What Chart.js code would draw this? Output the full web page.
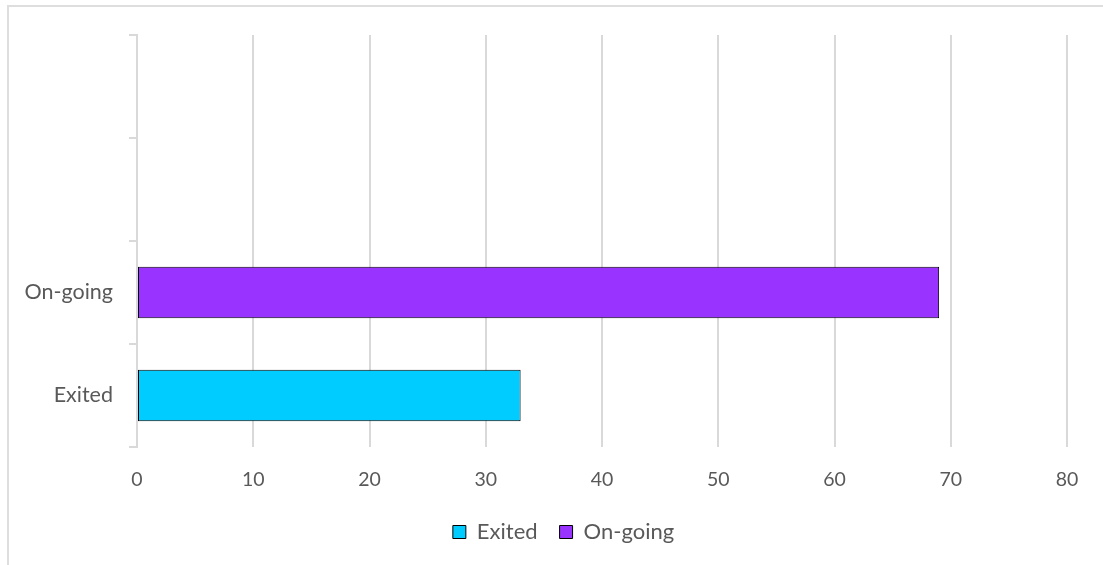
<!DOCTYPE html>
<html>
<head>
<meta charset="utf-8">
<script src="https://cdn.jsdelivr.net/npm/chart.js@4"></script>
<style>
  html, body { margin: 0; padding: 0; background: #fff; }
  #wrap { position: relative; width: 1103px; height: 565px; overflow: hidden; }
  #frame { position: absolute; left: 7px; top: 5px; width: 1200px; height: 700px;
           border-top: 2px solid #dedede; border-left: 2px solid #dedede; pointer-events: none; }
  canvas { position: absolute; left: 0; top: 0; }
</style>
</head>
<body>
<div id="wrap">
  <div id="frame"></div>
  <canvas id="c" width="1103" height="565"></canvas>
</div>
<script>
const categories = ["Exited", "On-going", "", ""];
const exitedValues = [33, null, null, null];
const ongoingValues = [null, 69, null, null];
const xTicks = [0, 10, 20, 30, 40, 50, 60, 70, 80];

const fam = "Lato, 'Open Sans', sans-serif";
const gridColor = "#d9d9d9";
const textColor = "#595959";

const legendShift = {
  id: "legendShift",
  afterLayout(chart) {
    if (chart.legend) { chart.legend.left += 20; chart.legend.right += 20; }
  }
};

new Chart(document.getElementById("c"), {
  type: "bar",
  data: {
    labels: categories,
    datasets: [
      { label: "Exited", data: exitedValues, backgroundColor: "#00ccff",
        borderColor: "#000000", borderWidth: 1, borderSkipped: false,
        barPercentage: 0.5, categoryPercentage: 1, grouped: false },
      { label: "On-going", data: ongoingValues, backgroundColor: "#9933ff",
        borderColor: "#000000", borderWidth: 1, borderSkipped: false,
        barPercentage: 0.5, categoryPercentage: 1, grouped: false }
    ]
  },
  plugins: [legendShift],
  options: {
    indexAxis: "y",
    responsive: false,
    animation: false,
    layout: { padding: { left: 20, right: 36, top: 35, bottom: 12 } },
    scales: {
      x: {
        min: xTicks[0], max: xTicks[xTicks.length - 1],
        afterBuildTicks: (s) => { s.ticks = xTicks.map(v => ({ value: v })); },
        afterFit: (s) => { s.height = 52; },
        grid: { color: gridColor, lineWidth: 2, drawTicks: false },
        border: { display: false },
        ticks: { color: textColor, font: { family: fam, size: 19.5 }, padding: 21 }
      },
      y: {
        reverse: true,
        afterFit: (s) => { s.width = 117; },
        grid: { drawOnChartArea: false, color: gridColor, lineWidth: 2, tickLength: 8, offset: true },
        border: { display: true, color: gridColor, width: 2 },
        ticks: { color: textColor, font: { family: fam, size: 21.5 }, padding: 16 }
      }
    },
    plugins: {
      legend: {
        position: "bottom",
        labels: { boxWidth: 13, boxHeight: 13, padding: 22, color: textColor,
                  font: { family: fam, size: 22 } }
      },
      tooltip: { enabled: false }
    }
  }
});
</script>
</body>
</html>
